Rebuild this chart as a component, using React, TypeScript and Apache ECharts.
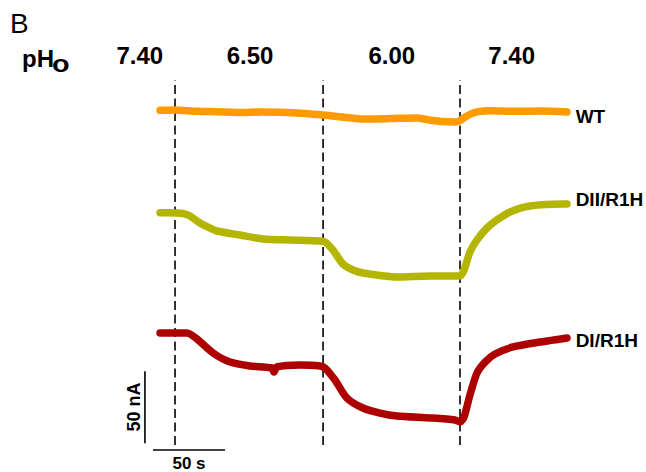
import React, { useEffect, useRef } from "react";
import * as echarts from "echarts";

// time (s), current (nA, arbitrary trace offsets as displayed)
const WT_TRACE: [number, number][] = [
  [4.9, 244.2], [15.3, 244.4], [30, 243.5], [45, 243.3], [60, 242.7], [76, 243.1],
  [100, 242.4], [118, 241.0], [128, 240.0], [135, 239.2], [146, 238.2], [165, 238.5],
  [183, 238.9], [192, 237.5], [200, 236.4], [210, 236.1], [213, 237.0], [218, 240.3],
  [225, 243.1], [235, 244.0], [250, 243.5], [270, 243.8], [287.5, 243.1],
];
const DII_TRACE: [number, number][] = [
  [4.9, 173.1], [15.3, 172.9], [20.8, 172.6], [25.7, 170.8], [32.6, 166.0], [39.6, 162.5],
  [44.4, 160.4], [60.4, 157.6], [76.4, 154.9], [95.1, 154.2], [116, 153.5], [119.4, 152.8],
  [125, 147.2], [131.9, 137.5], [138.9, 133.3], [145.8, 131.3], [169.4, 128.5], [192.4, 129.2],
  [213.2, 129.2], [216, 133.3], [220.1, 145.8], [225, 154.2], [231.9, 162.5], [238.9, 168.1],
  [247.9, 173.6], [261.8, 177.8], [284.7, 179.2], [287.5, 179.2],
];
const DI_TRACE: [number, number][] = [
  [4.9, 89.6], [23.6, 89.6], [30.6, 85.4], [41.7, 75.7], [53.5, 69.4], [67.4, 66.7],
  [82.6, 65.3], [84, 62.5], [86.1, 66.0], [102.1, 67.4], [116, 66.7], [119.4, 65.3],
  [126.4, 56.9], [134.7, 44.4], [145.8, 37.5], [157.6, 34.0], [169.4, 31.9], [192.4, 30.6],
  [209.7, 29.2], [213.2, 27.8], [216, 31.3], [220.1, 46.5], [225, 61.8], [230.6, 69.4],
  [237.5, 75.0], [250, 79.9], [268.8, 83.3], [287.5, 86.1],
];

const TRACE_NAMES = ["WT", "DII/R1H", "DI/R1H"];
const SWITCH_TIMES = [15.3, 118.1, 213.2];
const DASH_RANGE = [11.8, 265.3];
const PH_LABELS = ["7.40", "6.50", "6.00", "7.40"];
const PH_TIMES = [-9.2, 67.4, 165.8, 249.1];
const PH_LEVEL = 282;
const TRACE_LABEL_TIME = 293.5;
const TRACE_LABEL_LEVELS = [239.6, 182.6, 84.2];
const SCALE_TIME = [0, 50]; // 50 s
const SCALE_CURRENT = [13, 63]; // 50 nA
const SCALE_LABELS = ["50 s", "50 nA"];

const COLORS = ["#FF9A00", "#B4B500", "#AD0000"];
const FONT = "'Liberation Sans', Arial, Helvetica, sans-serif";

export default function App() {
  const ref = useRef<HTMLDivElement>(null);
  useEffect(() => {
    const chart = echarts.init(ref.current!, null, { renderer: "svg" });
    const traces = [WT_TRACE, DII_TRACE, DI_TRACE];
    const series: any[] = [];
    // dashed switch lines
    SWITCH_TIMES.forEach((t) => {
      series.push({
        type: "line",
        data: [[t, DASH_RANGE[0]], [t, DASH_RANGE[1]]],
        showSymbol: false,
        silent: true,
        lineStyle: { color: "#000", width: 1.6, type: [9, 4.5] },
        z: 1,
      });
    });
    traces.forEach((tr, i) => {
      series.push({
        type: "line",
        name: TRACE_NAMES[i],
        data: tr,
        showSymbol: false,
        smooth: 0.25,
        lineStyle: { color: COLORS[i], width: 7.5, cap: "round", join: "round" },
        z: 3,
      });
    });
    // scale bars
    series.push({
      type: "line",
      data: [[SCALE_TIME[0] - 5.6, SCALE_CURRENT[0]], [SCALE_TIME[0] - 5.6, SCALE_CURRENT[1]]],
      showSymbol: false,
      lineStyle: { color: "#000", width: 1.6 },
    });
    series.push({
      type: "line",
      data: [[SCALE_TIME[0], 8.3], [SCALE_TIME[1], 8.3]],
      showSymbol: false,
      lineStyle: { color: "#000", width: 1.6 },
    });
    // text labels anchored in data space
    const lbl = (extra: any) => ({
      show: true,
      formatter: "{b}",
      color: "#000",
      fontFamily: FONT,
      fontWeight: "bold",
      textBorderWidth: 0,
      opacity: 1,
      ...extra,
    });
    const labelData: any[] = [];
    PH_LABELS.forEach((p, i) => {
      labelData.push({
        name: p,
        value: [PH_TIMES[i], PH_LEVEL],
        label: lbl({ position: "inside", fontSize: 24 }),
      });
    });
    TRACE_NAMES.forEach((n, i) => {
      labelData.push({
        name: n,
        value: [TRACE_LABEL_TIME, TRACE_LABEL_LEVELS[i]],
        label: lbl({ position: "right", distance: 0, fontSize: 19 }),
      });
    });
    labelData.push({
      name: SCALE_LABELS[0],
      value: [25, -0.8],
      label: lbl({ position: "inside", fontSize: 17 }),
    });
    labelData.push({
      name: SCALE_LABELS[1],
      value: [-13.2, 38.2],
      label: lbl({ position: "inside", fontSize: 18, rotate: 90 }),
    });
    series.push({
      type: "scatter",
      data: labelData,
      symbolSize: 0,
      clip: false,
      silent: true,
      itemStyle: { color: "#000", opacity: 1 },
      label: lbl({}),
      z: 5,
    });

    chart.setOption({
      animation: false,
      backgroundColor: "#fff",
      grid: { left: 124.2, top: 30, width: 460.8, height: 432, containLabel: false },
      xAxis: { type: "value", min: -20, max: 300, show: false },
      yAxis: { type: "value", min: 0, max: 300, show: false },
      series,
      graphic: [
        {
          type: "text",
          left: 10,
          top: 9,
          style: { text: "B", fontSize: 28, fontFamily: FONT, fill: "#000" },
        },
        {
          type: "text",
          x: 22,
          y: 58,
          style: {
            text: "pH",
            fontSize: 24,
            fontWeight: "bold",
            fontFamily: FONT,
            fill: "#000",
            verticalAlign: "middle",
          },
        },
        {
          type: "text",
          x: 52,
          y: 64,
          scaleX: 1.2,
          style: {
            text: "o",
            fontSize: 24,
            fontWeight: "bold",
            fontFamily: FONT,
            fill: "#000",
            verticalAlign: "middle",
          },
        },
      ],
    });
    return () => chart.dispose();
  }, []);
  return (
    <div
      ref={ref}
      style={{ position: "fixed", left: 0, top: 0, width: 646, height: 472 }}
    />
  );
}
